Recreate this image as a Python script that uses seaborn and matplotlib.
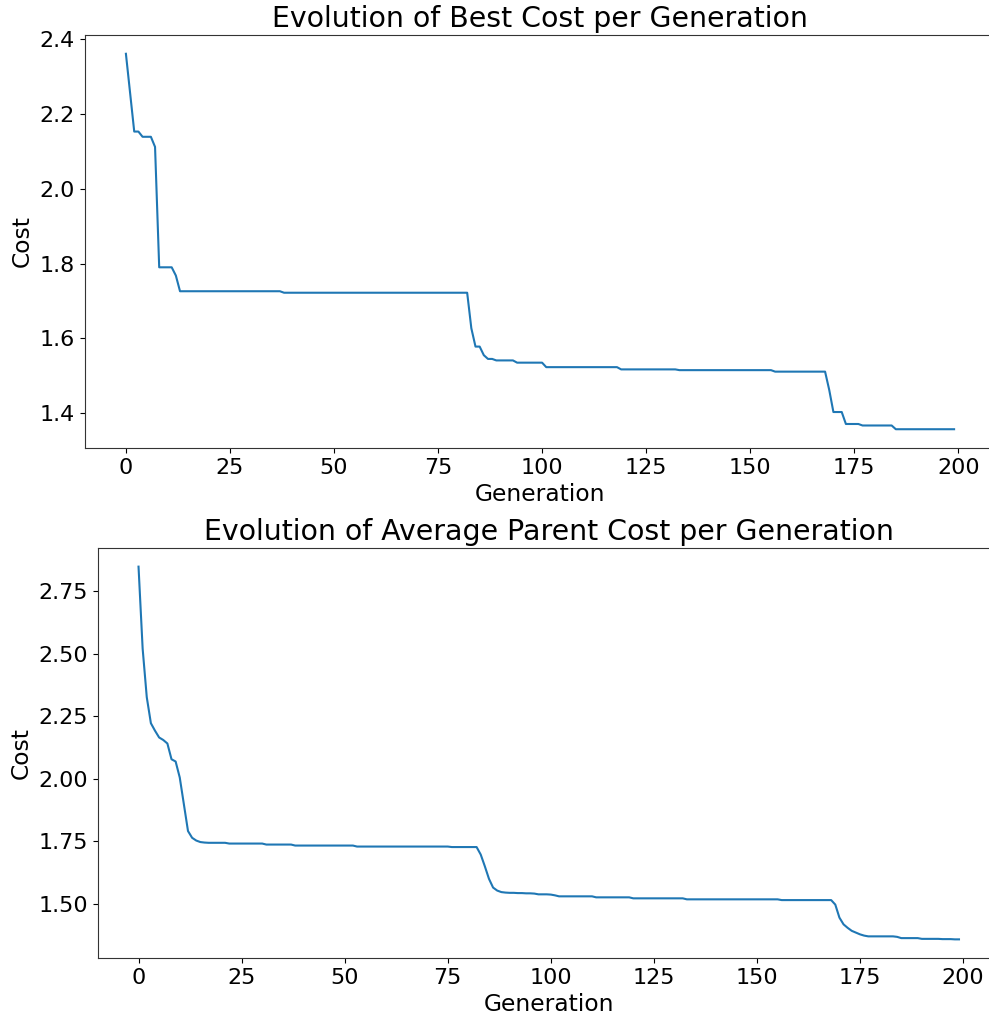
import numpy as np
import pandas as pd
import matplotlib
matplotlib.use("Agg")
import matplotlib.pyplot as plt
import seaborn as sns

generations = list(range(200))

best_cost = [
    2.361, 2.257, 2.153, 2.153, 2.139, 2.139, 2.139, 2.112, 1.790, 1.790,
    1.790, 1.790, 1.768, 1.726, 1.726, 1.726, 1.726, 1.726, 1.726, 1.726,
    1.726, 1.726, 1.726, 1.726, 1.726, 1.726, 1.726, 1.726, 1.726, 1.726,
    1.726, 1.726, 1.726, 1.726, 1.726, 1.726, 1.726, 1.726, 1.722, 1.722,
    1.722, 1.722, 1.722, 1.722, 1.722, 1.722, 1.722, 1.722, 1.722, 1.722,
    1.722, 1.722, 1.722, 1.722, 1.722, 1.722, 1.722, 1.722, 1.722, 1.722,
    1.722, 1.722, 1.722, 1.722, 1.722, 1.722, 1.722, 1.722, 1.722, 1.722,
    1.722, 1.722, 1.722, 1.722, 1.722, 1.722, 1.722, 1.722, 1.722, 1.722,
    1.722, 1.722, 1.722, 1.627, 1.578, 1.578, 1.555, 1.545, 1.545, 1.541,
    1.541, 1.541, 1.541, 1.541, 1.535, 1.535, 1.535, 1.535, 1.535, 1.535,
    1.535, 1.523, 1.523, 1.523, 1.523, 1.523, 1.523, 1.523, 1.523, 1.523,
    1.523, 1.523, 1.523, 1.523, 1.523, 1.523, 1.523, 1.523, 1.523, 1.517,
    1.517, 1.517, 1.517, 1.517, 1.517, 1.517, 1.517, 1.517, 1.517, 1.517,
    1.517, 1.517, 1.517, 1.515, 1.515, 1.515, 1.515, 1.515, 1.515, 1.515,
    1.515, 1.515, 1.515, 1.515, 1.515, 1.515, 1.515, 1.515, 1.515, 1.515,
    1.515, 1.515, 1.515, 1.515, 1.515, 1.515, 1.511, 1.511, 1.511, 1.511,
    1.511, 1.511, 1.511, 1.511, 1.511, 1.511, 1.511, 1.511, 1.511, 1.462,
    1.403, 1.403, 1.403, 1.371, 1.371, 1.371, 1.371, 1.367, 1.367, 1.367,
    1.367, 1.367, 1.367, 1.367, 1.367, 1.357, 1.357, 1.357, 1.357, 1.357,
    1.357, 1.357, 1.357, 1.357, 1.357, 1.357, 1.357, 1.357, 1.357, 1.357,
]

avg_parent_cost = [
    2.848, 2.520, 2.326, 2.222, 2.192, 2.165, 2.155, 2.141, 2.078, 2.069,
    2.005, 1.898, 1.791, 1.764, 1.753, 1.747, 1.745, 1.744, 1.744, 1.744,
    1.744, 1.744, 1.741, 1.741, 1.741, 1.741, 1.741, 1.741, 1.741, 1.741,
    1.741, 1.737, 1.737, 1.737, 1.737, 1.737, 1.737, 1.737, 1.733, 1.733,
    1.733, 1.733, 1.733, 1.733, 1.733, 1.733, 1.733, 1.733, 1.733, 1.733,
    1.733, 1.733, 1.733, 1.729, 1.729, 1.729, 1.729, 1.729, 1.729, 1.729,
    1.729, 1.729, 1.729, 1.729, 1.729, 1.729, 1.729, 1.729, 1.729, 1.729,
    1.729, 1.729, 1.729, 1.729, 1.729, 1.729, 1.727, 1.727, 1.727, 1.727,
    1.727, 1.727, 1.727, 1.697, 1.650, 1.600, 1.565, 1.553, 1.547, 1.545,
    1.544, 1.544, 1.543, 1.543, 1.542, 1.542, 1.541, 1.538, 1.538, 1.538,
    1.537, 1.534, 1.530, 1.530, 1.530, 1.530, 1.530, 1.530, 1.530, 1.530,
    1.530, 1.526, 1.526, 1.526, 1.526, 1.526, 1.526, 1.526, 1.526, 1.526,
    1.522, 1.522, 1.522, 1.522, 1.522, 1.522, 1.522, 1.522, 1.522, 1.522,
    1.522, 1.522, 1.522, 1.518, 1.518, 1.518, 1.518, 1.518, 1.518, 1.518,
    1.518, 1.518, 1.518, 1.518, 1.518, 1.518, 1.518, 1.518, 1.518, 1.518,
    1.518, 1.518, 1.518, 1.518, 1.518, 1.518, 1.515, 1.515, 1.515, 1.515,
    1.515, 1.515, 1.515, 1.515, 1.515, 1.515, 1.515, 1.515, 1.515, 1.497,
    1.445, 1.418, 1.404, 1.392, 1.385, 1.378, 1.373, 1.370, 1.370, 1.370,
    1.370, 1.370, 1.370, 1.370, 1.368, 1.363, 1.363, 1.363, 1.363, 1.363,
    1.360, 1.360, 1.360, 1.360, 1.360, 1.359, 1.359, 1.359, 1.358, 1.358,
]

titles = ["Evolution of Best Cost per Generation",
          "Evolution of Average Parent Cost per Generation"]
x_label = "Generation"
y_label = "Cost"
x_ticks = [0, 25, 50, 75, 100, 125, 150, 175, 200]
top_y_ticks = [1.4, 1.6, 1.8, 2.0, 2.2, 2.4]
bottom_y_ticks = [1.50, 1.75, 2.00, 2.25, 2.50, 2.75]
bottom_y_ticklabels = ["1.50", "1.75", "2.00", "2.25", "2.50", "2.75"]

df = pd.DataFrame({"Generation": generations,
                   "Best": best_cost,
                   "Average": avg_parent_cost})

W, H = 989, 1015
fig = plt.figure(figsize=(W / 100, H / 100), dpi=100)
fig.patch.set_facecolor("white")

# axes extend a little past the right edge of the canvas (as in the reference)
ax1 = fig.add_axes([84.5 / W, 1 - 448 / H, (995.5 - 84.5) / W, 413 / H])
ax2 = fig.add_axes([97.5 / W, 1 - 958 / H, (1000 - 97.5) / W, 410 / H])

line_color = "#1f77b4"
for ax, col, title in [(ax1, "Best", titles[0]), (ax2, "Average", titles[1])]:
    sns.lineplot(data=df, x="Generation", y=col, ax=ax, color=line_color,
                 linewidth=1.5)
    ax.set_title(title, fontsize=20.4)
    ax.set_xlabel(x_label, fontsize=16.8)
    ax.set_ylabel(y_label, fontsize=16.8)
    ax.tick_params(labelsize=16)
    ax.set_xticks(x_ticks)
    ax.set_xlim(-9.95, 208.95)
    for s in ax.spines.values():
        s.set_color("#333333")
        s.set_linewidth(0.8)

ax1.set_yticks(top_y_ticks)
ax2.set_yticks(bottom_y_ticks)
ax2.set_yticklabels(bottom_y_ticklabels)

fig.savefig("out.png", dpi=100, facecolor="white")
